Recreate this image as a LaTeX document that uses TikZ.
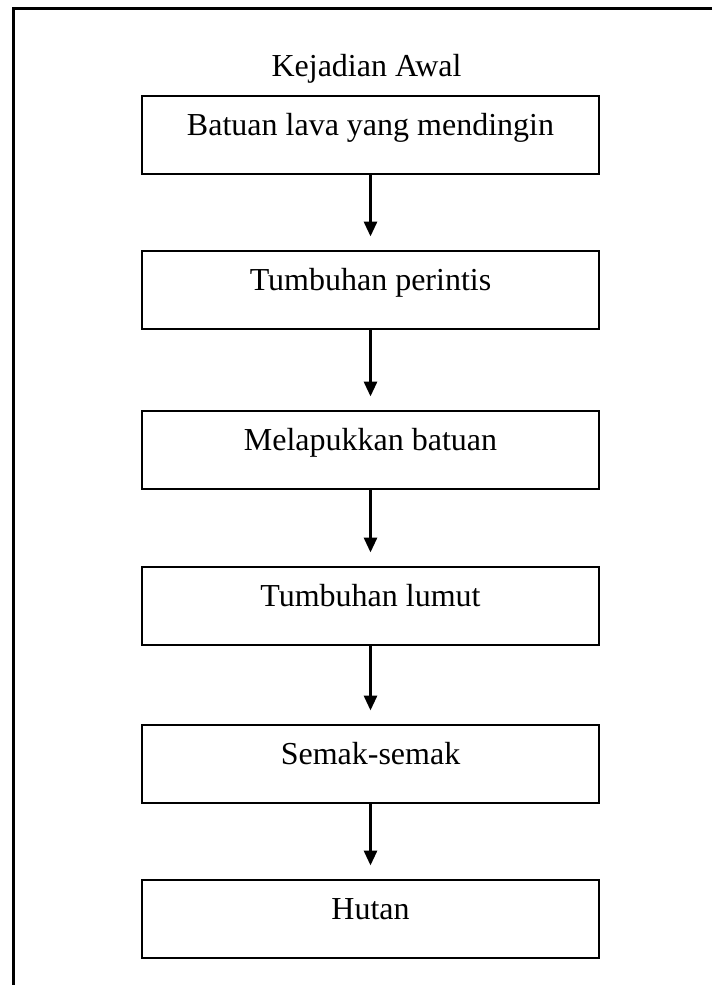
\documentclass[tikz,border=0pt]{standalone}
\usepackage{fontspec}
\setmainfont{Liberation Serif}
\usetikzlibrary{positioning,arrows.meta}

\begin{document}
\begin{tikzpicture}[
	x=1pt, y=1pt,
	stagebox/.style={draw, line width=2pt, minimum width=457pt, minimum height=78pt, inner sep=0pt},
	flow/.style={-{Triangle[length=15pt, width=13pt]}, line width=3pt, shorten >=14pt},
	node distance=78pt,
	every node/.style={outer sep=0pt, font=\fontsize{32}{38}\selectfont},
]
\useasboundingbox (0,0) rectangle (712,-985);
% Input 1: placement, input 2: name, input 3: text in box.
\def\stage[#1](#2)#3{
	\node[stagebox, #1] (#2) {};
	\node[anchor=base] at ([yshift=-40pt]#2.north) (#2text) {#3};
}
	% frame (open at the right)
	\draw[line width=3pt] (712,-8) -- (13.5,-8) -- (13.5,-985);

	\stage[at={(370.5,-134.5)}](lava){Batuan lava yang mendingin}
	\node[above=9pt of lava, xshift=-4pt] (start) {Kejadian Awal};
	\stage[below=77pt of lava](perintis){Tumbuhan perintis}
	\stage[below=82pt of perintis](lapuk){Melapukkan batuan}
	\stage[below=78pt of lapuk](lumut){Tumbuhan lumut}
	\stage[below=80pt of lumut](semak){Semak-semak}
	\stage[below=77pt of semak](hutan){Hutan}

	\foreach \from/\to in {lava/perintis, perintis/lapuk, lapuk/lumut,
		lumut/semak, semak/hutan}
		\draw[flow] (\from.south) -- (\to.north);
\end{tikzpicture}
\end{document}
